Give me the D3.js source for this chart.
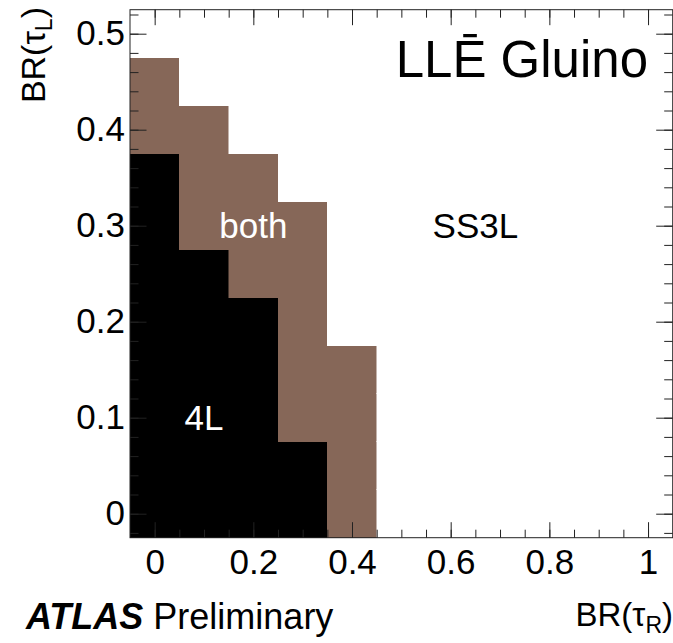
<!DOCTYPE html>
<html>
<head>
<meta charset="utf-8">
<script src="https://cdn.jsdelivr.net/npm/d3@7"></script>
<style>
  body { margin: 0; background: #fff; }
  svg { display: block; font-family: "Liberation Sans", Arial, Helvetica, sans-serif; }
  .axis path.domain { display: none; }
  .axis line { stroke: #222; stroke-width: 1; }
</style>
</head>
<body>
<div id="chart"></div>
<script>
// bin centres of the scan
var tauR = [0, 0.1, 0.2, 0.3, 0.4, 0.5, 0.6, 0.7, 0.8, 0.9, 1.0];
var tauL = [0, 0.05, 0.1, 0.15, 0.2, 0.25, 0.3, 0.35, 0.4, 0.45, 0.5];
// highest BR(tau_L) bin per BR(tau_R) column where each selection is best (null = none)
var best4L   = [0.35, 0.25, 0.2, 0.05, null, null, null, null, null, null, null];
var bestBoth = [0.45, 0.4, 0.35, 0.3, 0.15, null, null, null, null, null, null];
var regionLabels = [
  {text: "both", x: 0.2,  y: 0.3},
  {text: "SS3L", x: 0.65, y: 0.3},
  {text: "4L",   x: 0.1,  y: 0.1}
];
var xMajor = [0, 0.2, 0.4, 0.6, 0.8, 1.0];
var yMajor = [0, 0.1, 0.2, 0.3, 0.4, 0.5];

var colors = {"4L": "#000000", "both": "#866758", "SS3L": "#ffffff"};

var width = 673, height = 643;
var frame = {left: 130, right: 672.7, top: 9.7, bottom: 537.7};

var x = d3.scaleLinear().domain([-0.05, 1.05]).range([frame.left, frame.right]);
var y = d3.scaleLinear().domain([-0.025, 0.525]).range([frame.bottom, frame.top]);

var svg = d3.select("#chart").append("svg")
  .attr("width", width)
  .attr("height", height);

// build cells from the per-column limits
var cells = [];
tauR.forEach(function(r, i) {
  tauL.forEach(function(l) {
    var region = "SS3L";
    if (best4L[i] !== null && l <= best4L[i] + 1e-9) region = "4L";
    else if (bestBoth[i] !== null && l <= bestBoth[i] + 1e-9) region = "both";
    cells.push({r: r, l: l, region: region});
  });
});

svg.append("g").classed("cells", true)
  .attr("shape-rendering", "crispEdges")
  .selectAll("rect")
  .data(cells)
  .enter().append("rect")
  .attr("x", function(d) { return x(d.r - 0.05); })
  .attr("y", function(d) { return y(d.l + 0.025); })
  .attr("width", function(d) { return x(d.r + 0.05) - x(d.r - 0.05); })
  .attr("height", function(d) { return y(d.l - 0.025) - y(d.l + 0.025); })
  .attr("fill", function(d) { return colors[d.region]; })
  .attr("stroke", function(d) { return colors[d.region]; })
  .attr("stroke-width", 0.5);

svg.append("g").classed("labels", true)
  .selectAll("text")
  .data(regionLabels)
  .enter().append("text")
  .attr("x", function(d) { return x(d.x); })
  .attr("y", function(d) { return y(d.y); })
  .attr("dy", "0.36em")
  .attr("text-anchor", "middle")
  .attr("font-size", 35)
  .attr("fill", function(d) { return d.text === "SS3L" ? "#000" : "#fff"; })
  .text(function(d) { return d.text; });

var xMinor = d3.range(0, 1.0001, 0.05);
var yMinor = d3.range(-0.02, 0.5201, 0.02);
var fmt = function(d) { return d3.format("~g")(+d.toFixed(2)); };

function addAxis(axis, tx, ty) {
  return svg.append("g").classed("axis", true)
    .attr("transform", "translate(" + tx + "," + ty + ")")
    .call(axis);
}

// bottom
addAxis(d3.axisBottom(x).tickValues(xMinor).tickSize(-8).tickSizeOuter(0).tickFormat(""), 0, frame.bottom);
addAxis(d3.axisBottom(x).tickValues(xMajor).tickSize(-15.5).tickSizeOuter(0).tickPadding(11).tickFormat(fmt), 0, frame.bottom);
// top
addAxis(d3.axisTop(x).tickValues(xMinor).tickSize(-8).tickSizeOuter(0).tickFormat(""), 0, frame.top);
addAxis(d3.axisTop(x).tickValues(xMajor).tickSize(-15.5).tickSizeOuter(0).tickFormat(""), 0, frame.top);
// left
addAxis(d3.axisLeft(y).tickValues(yMinor).tickSize(-8.5).tickSizeOuter(0).tickFormat(""), frame.left, 0);
addAxis(d3.axisLeft(y).tickValues(yMajor).tickSize(-16.5).tickSizeOuter(0).tickPadding(5).tickFormat(fmt), frame.left, 0);
// right
addAxis(d3.axisRight(y).tickValues(yMinor).tickSize(-8.5).tickSizeOuter(0).tickFormat(""), frame.right, 0);
addAxis(d3.axisRight(y).tickValues(yMajor).tickSize(-16.5).tickSizeOuter(0).tickFormat(""), frame.right, 0);

svg.selectAll(".axis text")
  .attr("font-size", 35)
  .attr("font-family", "Liberation Sans, Arial, sans-serif")
  .attr("fill", "#000");

// frame
svg.append("rect")
  .attr("x", frame.left).attr("y", frame.top)
  .attr("width", frame.right - frame.left).attr("height", frame.bottom - frame.top)
  .attr("fill", "none")
  .attr("stroke", "#222")
  .attr("stroke-width", 1);

// title in frame
svg.append("text")
  .attr("x", 648).attr("y", 77)
  .attr("text-anchor", "end")
  .attr("font-size", 51)
  .text("LLĒ Gluino");

// axis titles
var xt = svg.append("text")
  .attr("x", 673).attr("y", 626)
  .attr("text-anchor", "end")
  .attr("font-size", 33);
xt.append("tspan").text("BR(τ");
xt.append("tspan").attr("font-size", 23).attr("dy", 7).text("R");
xt.append("tspan").attr("dy", -7).text(")");

var yt = svg.append("text")
  .attr("transform", "translate(45,7) rotate(-90)")
  .attr("text-anchor", "end")
  .attr("font-size", 34);
yt.append("tspan").text("BR(τ");
yt.append("tspan").attr("font-size", 23).attr("dy", 7).text("L");
yt.append("tspan").attr("dy", -7).text(")");

// experiment label
var at = svg.append("text")
  .attr("x", 26).attr("y", 629)
  .attr("font-size", 36);
at.append("tspan").attr("font-weight", "bold").attr("font-style", "italic").text("ATLAS");
at.append("tspan").text(" Preliminary");
</script>
</body>
</html>
